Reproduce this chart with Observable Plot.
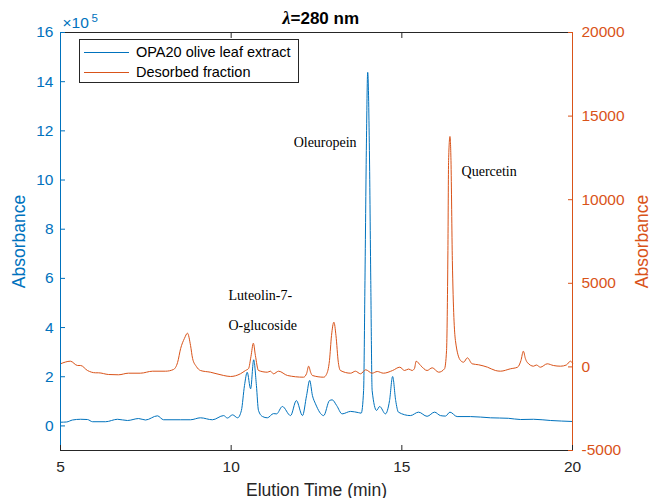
<!DOCTYPE html>
<html>
<head>
<meta charset="utf-8">
<script src="https://cdn.jsdelivr.net/npm/d3@7"></script>
<script src="https://cdn.jsdelivr.net/npm/@observablehq/plot@0.6"></script>
<style>
  body { margin: 0; background: #fff; }
  #wrap { position: relative; width: 651px; height: 498px; overflow: hidden; }
  #legend { position: absolute; left: 79px; top: 39px; width: 218px; height: 40px; padding-top: 2px;
            border: 1px solid #262626; background: #fff;
            font: 14.5px "Liberation Sans", Arial, sans-serif; color: #000; }
  #legend .row { display: flex; align-items: center; height: 20px; }
  #legend .swatch { width: 45px; height: 0; border-top: 1px solid; margin-left: 4px; margin-right: 7px; }
</style>
</head>
<body>
<div id="wrap"></div>
<script>
// ---- data ----
const seriesNames = ["OPA20 olive leaf extract", "Desorbed fraction"];

// OPA20 olive leaf extract (left axis, x10^5)
const blueT = [5.00,5.18,5.35,5.59,5.79,5.94,6.32,6.67,6.96,7.29,7.49,7.84,8.02,8.52,8.81,9.10,9.45,9.78,9.89,10.04,10.19,10.30,10.39,10.47,10.57,10.66,10.74,10.80,10.92,11.06,11.24,11.33,11.50,11.74,11.91,12.09,12.21,12.30,12.38,12.47,12.71,12.88,12.96,13.09,13.25,13.50,13.73,13.81,13.88,13.92,13.96,14.00,14.05,14.09,14.13,14.26,14.35,14.52,14.64,14.73,14.82,14.90,15.25,15.49,15.74,15.96,16.13,16.28,16.41,16.62,17.01,17.60,18.12,18.48,18.86,19.36,20.00];
const blueV = [0.15,0.16,0.24,0.27,0.26,0.17,0.17,0.27,0.22,0.30,0.24,0.41,0.25,0.25,0.25,0.33,0.25,0.42,0.32,0.45,0.33,0.63,1.64,2.18,1.51,2.69,1.64,0.63,0.38,0.33,0.50,0.49,0.79,0.42,1.03,0.42,1.24,1.85,1.24,0.90,0.42,1.03,1.06,0.83,0.49,0.59,0.54,0.52,1.44,5.91,11.2,14.38,11.2,5.91,1.44,0.63,0.79,0.49,1.03,2.01,1.03,0.56,0.42,0.56,0.39,0.56,0.42,0.40,0.56,0.38,0.38,0.33,0.31,0.26,0.27,0.22,0.18];

// Desorbed fraction (right axis)
const orangeT = [5.00,5.29,5.50,5.59,5.79,6.03,6.11,6.41,6.70,6.99,7.34,7.70,8.08,8.31,8.43,8.52,8.63,8.72,8.81,8.87,8.98,9.10,9.39,9.78,9.98,10.27,10.42,10.51,10.58,10.65,10.71,10.80,11.06,11.15,11.24,11.39,11.65,12.12,12.21,12.27,12.33,12.38,12.71,12.79,12.88,12.94,13.01,13.07,13.14,13.20,13.50,13.64,13.79,13.94,14.13,14.28,14.46,14.73,14.94,15.08,15.20,15.30,15.37,15.42,15.55,15.74,15.89,16.08,16.25,16.31,16.35,16.37,16.41,16.44,16.48,16.57,16.72,16.81,16.92,17.06,17.25,17.51,17.74,17.89,18.18,18.39,18.49,18.56,18.62,18.67,18.86,18.94,19.06,19.26,19.44,19.65,19.82,19.94,20.00];
const orangeV = [185,341,84,84,-215,-353,-353,-455,-472,-377,-377,-257,-257,-156,263,1100,1699,2015,1280,502,24,-215,-317,-514,-574,-413,-215,-96,622,1417,682,-215,-317,-257,-413,-257,-514,-616,-395,42,-335,-514,-616,-455,383,1878,2673,1878,263,-215,-377,-257,-413,-173,-377,-275,-377,-215,-18,-215,-126,-215,-96,341,84,-215,-54,-317,-114,981,6962,12344,13780,12344,6364,1579,383,281,544,185,126,-18,-215,-257,-114,-18,383,939,502,281,42,114,-18,185,84,42,114,341,233];

// axes
const xDomain = [5, 20];
const xTicks = [5, 10, 15, 20];
const leftDomain = [-1, 16];
const leftTicks = [0, 2, 4, 6, 8, 10, 12, 14, 16];
const rightDomain = [-5000, 20000];
const rightTicks = [-5000, 0, 5000, 10000, 15000, 20000];

// peak annotations (data coordinates, left axis units)
const annText = ["Luteolin-7-", "O-glucoside", "Oleuropein", "Quercetin"];
const annT = [9.92, 9.92, 11.83, 16.75];
const annV = [5.14, 3.92, 11.36, 10.18];

// ---- chart ----
const BLUE = "#0072BD", ORANGE = "#D95319", DARK = "#262626";
const toLeft = v => leftDomain[0] + (v - rightDomain[0]) / (rightDomain[1] - rightDomain[0]) * (leftDomain[1] - leftDomain[0]);
const fromLeft = u => rightDomain[0] + (u - leftDomain[0]) / (leftDomain[1] - leftDomain[0]) * (rightDomain[1] - rightDomain[0]);

const blue = blueT.map((t, i) => ({t, v: blueV[i]}));
const orange = orangeT.map((t, i) => ({t, v: toLeft(orangeV[i])}));
const ann = annText.map((label, i) => ({label, t: annT[i], v: annV[i]}));

const SANS = "'Liberation Sans', Arial, sans-serif";
const SERIF = "'Liberation Serif', 'Times New Roman', serif";

const chart = Plot.plot({
  width: 651, height: 498,
  marginLeft: 60, marginRight: 79, marginTop: 32, marginBottom: 48,
  style: {fontFamily: SANS, fontSize: "15.5px", background: "#fff", overflow: "visible"},
  x: {domain: xDomain},
  y: {domain: leftDomain},
  marks: [
    Plot.line(blue, {x: "t", y: "v", stroke: BLUE, strokeWidth: 1, curve: "monotone-x"}),
    Plot.line(orange, {x: "t", y: "v", stroke: ORANGE, strokeWidth: 1, curve: "monotone-x"}),
    Plot.text(ann, {x: "t", y: "v", text: "label", textAnchor: "start", lineAnchor: "bottom",
                    fontFamily: SERIF, fontSize: 14, fill: "#000"}),
    Plot.ruleY([leftDomain[1]], {stroke: DARK}),
    Plot.ruleY([leftDomain[0]], {stroke: DARK}),
    Plot.ruleX([xDomain[0]], {stroke: BLUE}),
    Plot.ruleX([xDomain[1]], {stroke: ORANGE}),
    Plot.axisX({anchor: "bottom", ticks: xTicks, tickSize: -5, tickPadding: 15, color: DARK, label: null}),
    Plot.axisX({anchor: "top", ticks: xTicks.slice(1, 3), tickSize: -5, tickFormat: () => "", color: DARK, label: null}),
    Plot.axisY({anchor: "left", ticks: leftTicks, tickSize: -5, tickPadding: 12, color: BLUE, label: null}),
    Plot.axisY({anchor: "right", ticks: rightTicks.map(toLeft), tickFormat: d => String(Math.round(fromLeft(d))),
                tickSize: -5, tickPadding: 14, color: ORANGE, label: null}),
    Plot.text(["Elution Time (min)"], {frameAnchor: "bottom", textAnchor: "middle", lineAnchor: "bottom", dy: 45, fontSize: 17.5, fill: DARK}),
    Plot.text(["Absorbance"], {frameAnchor: "left", textAnchor: "middle", rotate: -90, dx: -41, fontSize: 17.5, fill: BLUE}),
    Plot.text(["Absorbance"], {frameAnchor: "right", textAnchor: "middle", rotate: -90, dx: 70, fontSize: 17.5, fill: ORANGE}),
    Plot.text(["λ"], {frameAnchor: "top", textAnchor: "end", lineAnchor: "bottom", dx: -26, dy: -9,
                      fontFamily: SERIF, fontStyle: "italic", fontWeight: "bold", fontSize: 18, fill: "#000"}),
    Plot.text(["=280 nm"], {frameAnchor: "top", textAnchor: "start", lineAnchor: "bottom", dx: -26, dy: -9,
                      fontWeight: "bold", fontSize: 17, fill: "#000"}),
    Plot.text(["×10"], {frameAnchor: "top-left", textAnchor: "start", lineAnchor: "bottom", dx: 2, dy: -5, fontSize: 15.5, fill: BLUE}),
    Plot.text(["5"], {frameAnchor: "top-left", textAnchor: "start", lineAnchor: "bottom", dx: 31, dy: -11, fontSize: 11.5, fill: BLUE})
  ]
});

const wrap = document.getElementById("wrap");
wrap.appendChild(chart);

const legend = document.createElement("div");
legend.id = "legend";
[BLUE, ORANGE].forEach((c, i) => {
  const row = document.createElement("div");
  row.className = "row";
  const sw = document.createElement("span");
  sw.className = "swatch";
  sw.style.borderTopColor = c;
  const lab = document.createElement("span");
  lab.textContent = seriesNames[i];
  row.appendChild(sw); row.appendChild(lab);
  legend.appendChild(row);
});
wrap.appendChild(legend);
</script>
</body>
</html>
